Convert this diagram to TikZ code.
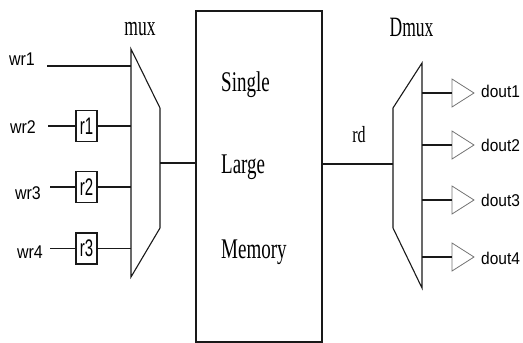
\documentclass[tikz,border=0pt]{standalone}
\usepackage{fontspec}
\setmainfont{Liberation Serif}
\newfontfamily\labsans{Liberation Sans}
\newcommand\vstretch[2]{\scalebox{1}[#1]{#2}}
\begin{document}
\begin{tikzpicture}[x=1pt,y=-1pt,
  wire/.style={line width=1.1pt,draw=black!90},
  regbox/.style={draw=black!90,line width=1.1pt,minimum width=21pt,minimum height=31pt,
    inner sep=0pt,font=\labsans\fontsize{15}{15}\selectfont},
  inlab/.style={inner sep=0pt,font=\labsans\fontsize{16}{16}\selectfont},
  outlab/.style={inner sep=0pt,anchor=west,font=\labsans\fontsize{15.5}{15.5}\selectfont},
  serlab/.style={inner sep=0pt,font=\fontsize{17.5}{17.5}\selectfont},
  memlab/.style={inner sep=0pt,anchor=west,font=\fontsize{19}{19}\selectfont},
  buf/.style={draw=black!55,line width=0.8pt,line join=miter}]
\useasboundingbox (0,0) rectangle (523,343);

% input labels
\node[inlab] (lw1) at (22,59)  {\vstretch{1.15}{wr1}};
\node[inlab] (lw2) at (23,127) {\vstretch{1.15}{wr2}};
\node[inlab] (lw3) at (28,193) {\vstretch{1.15}{wr3}};
\node[inlab] (lw4) at (30,252) {\vstretch{1.15}{wr4}};

% register boxes
\node[regbox] (r1) at (86.5,126)   {\vstretch{1.6}{r1}};
\node[regbox] (r2) at (86.5,187)   {\vstretch{1.6}{r2}};
\node[regbox] (r3) at (86.5,248.5) {\vstretch{1.6}{r3}};

% input wire starts
\coordinate (s1) at (47,66);
\coordinate (s2) at (48,126);
\coordinate (s3) at (50,187);
\coordinate (s4) at (50,248.5);

% multiplexer outline
\coordinate (mTL) at (131,49);
\coordinate (mTR) at (160,108);
\coordinate (mBR) at (160,228);
\coordinate (mBL) at (131,277);
\draw[wire,line join=miter] (mTL) -- (mTR) -- (mBR) -- (mBL) -- cycle;
\node[serlab] (muxlab) at (140,29.5) {\vstretch{1.6}{mux}};
\coordinate (m1) at (131,66);
\coordinate (m2) at (131,126);
\coordinate (m3) at (131,187);
\coordinate (m4) at (131,248.5);
\coordinate (mo) at (160,163);

% input wiring
\draw[wire] (s1) -- (m1);
\draw[wire] (s2) -- (r1.west);
\draw[wire] (r1.east) -- (m2);
\draw[wire] (s3) -- (r2.west);
\draw[wire] (r2.east) -- (m3);
\draw[wire] (s4) -- (r3.west);
\draw[wire] (r3.east) -- (m4);

% memory block
\node[draw=black!90,line width=1.2pt,minimum width=126pt,minimum height=331pt,inner sep=0pt]
  (mem) at (259,176.5) {};
\node[memlab] (tS) at (221,85)    {\vstretch{1.5}{Single}};
\node[memlab] (tL) at (221,167.5) {\vstretch{1.5}{Large}};
\node[memlab] (tM) at (221,252)   {\vstretch{1.5}{Memory}};
\draw[wire] (mo) -- (mem.west |- mo);

% demultiplexer outline
\coordinate (dTL) at (393,108);
\coordinate (dTR) at (422,63);
\coordinate (dBR) at (422,288);
\coordinate (dBL) at (393,228);
\draw[wire,line join=miter] (dTL) -- (dTR) -- (dBR) -- (dBL) -- cycle;
\node[serlab] (dmuxlab) at (411.5,27.5) {\vstretch{1.6}{Dmux}};
\coordinate (di) at (393,164);
\draw[wire] (mem.east |- di) -- (di);
\node[serlab,font=\fontsize{16}{16}\selectfont] (rdlab) at (359,135) {\vstretch{1.45}{rd}};

% output buffers
\foreach \i/\yy/\ly in {1/93/91, 2/145/145, 3/200/200, 4/257/258} {
  \coordinate (d\i) at (422,\yy);
  \coordinate (b\i) at (452,\yy);
  \draw[buf] (452,\yy-14) -- (474,\yy) -- (452,\yy+14) -- cycle;
  \draw[wire] (d\i) -- (b\i);
  \node[outlab] (o\i) at (481,\ly) {\vstretch{1.1}{dout\i}};
}
\end{tikzpicture}
\end{document}
